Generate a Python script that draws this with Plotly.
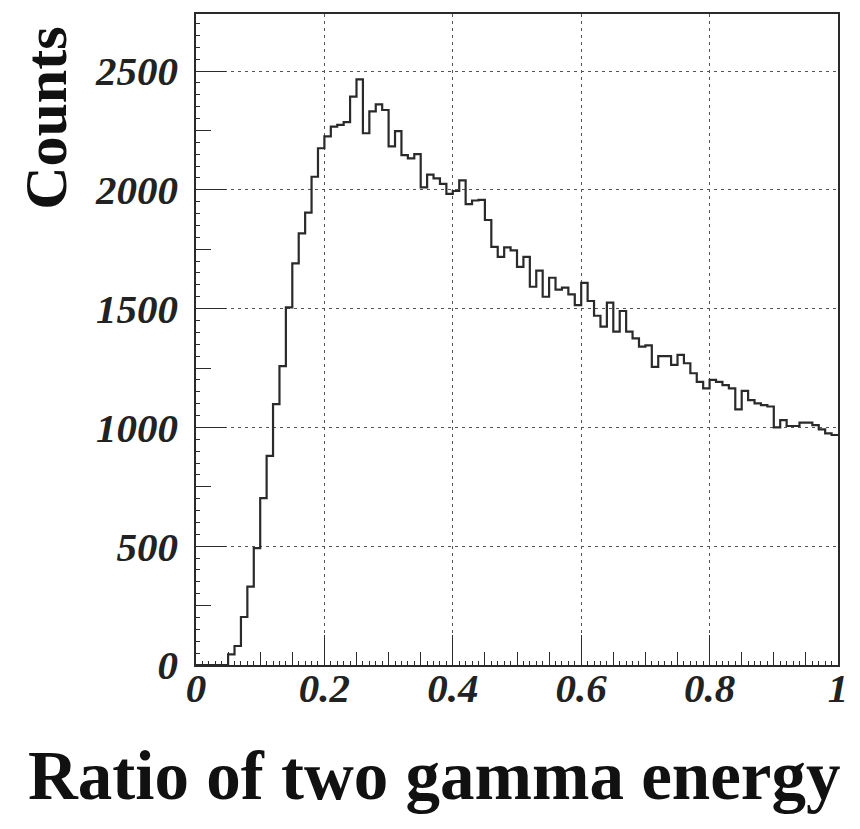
import numpy as np
import plotly.graph_objects as go

# Histogram of the energy ratio of the two photons: 100 bins on [0, 1]
x_min, x_max = 0.0, 1.0
counts = [
    0, 0, 0, 0, 0, 45, 80, 202, 330, 492,
    702, 880, 1098, 1258, 1505, 1690, 1817, 1904, 2055, 2175,
    2225, 2266, 2273, 2285, 2392, 2465, 2238, 2330, 2360, 2336,
    2183, 2247, 2146, 2132, 2150, 2010, 2064, 2048, 2025, 1983,
    1995, 2040, 1940, 1955, 1958, 1873, 1760, 1718, 1758, 1745,
    1676, 1718, 1592, 1660, 1550, 1630, 1580, 1588, 1560, 1515,
    1608, 1532, 1470, 1424, 1525, 1403, 1490, 1403, 1375, 1340,
    1345, 1255, 1300, 1300, 1263, 1305, 1270, 1228, 1192, 1164,
    1200, 1192, 1178, 1164, 1076, 1154, 1115, 1101, 1094, 1088,
    1000, 1031, 1006, 1006, 1020, 1020, 1010, 992, 975, 968,
]
x_ticks = [0, 0.2, 0.4, 0.6, 0.8, 1]
x_tick_text = ["0", "0.2", "0.4", "0.6", "0.8", "1"]
y_ticks = [0, 500, 1000, 1500, 2000, 2500]
y_tick_text = ["0", "500", "1000", "1500", "2000", "2500"]
y_max = 2740
x_title = "Ratio of two gamma energy"
y_title = "Counts"

edges = np.linspace(x_min, x_max, len(counts) + 1)
step_x = list(edges)
step_y = list(counts) + [counts[-1]]

serif = "Liberation Serif, Times New Roman, serif"
ink = "#2a2a2a"

fig = go.Figure()
fig.add_trace(go.Scatter(
    x=step_x, y=step_y, mode="lines",
    line=dict(shape="hv", color=ink, width=2.2),
    hoverinfo="skip", showlegend=False,
))
# invisible trace that carries the fine tick axes
fig.add_trace(go.Scatter(x=[x_min], y=[0], xaxis="x2", yaxis="y2",
                         mode="markers", marker=dict(opacity=0),
                         showlegend=False, hoverinfo="skip"))

tick_font = dict(family=serif, size=41, color="#222", weight="bold", style="italic")

fig.update_layout(
    width=860, height=829,
    margin=dict(l=196, r=14, t=14, b=164),
    paper_bgcolor="white", plot_bgcolor="white",
    xaxis=dict(
        range=[x_min, x_max], tickvals=x_ticks, ticktext=x_tick_text,
        ticks="inside", ticklen=30, tickwidth=1.2, tickcolor=ink,
        showline=True, linecolor=ink, linewidth=1.6, mirror=True,
        showgrid=True, gridcolor="#555", griddash="3px,4px", gridwidth=1,
        zeroline=False, tickfont=tick_font, ticklabelstandoff=-14,
        minor=dict(dtick=0.05, ticks="inside", ticklen=13, tickcolor=ink,
                   tickwidth=1.2, showgrid=False),
    ),
    yaxis=dict(
        range=[0, y_max], tickvals=y_ticks, ticktext=y_tick_text,
        ticks="inside", ticklen=30, tickwidth=1.2, tickcolor=ink,
        showline=True, linecolor=ink, linewidth=1.6, mirror=True,
        showgrid=True, gridcolor="#555", griddash="3px,4px", gridwidth=1,
        zeroline=False, tickfont=tick_font, ticklabelstandoff=8,
        minor=dict(dtick=250, ticks="inside", ticklen=15, tickcolor=ink,
                   tickwidth=1.2, showgrid=False),
    ),
    xaxis2=dict(range=[x_min, x_max], overlaying="x", anchor="y", side="bottom",
                dtick=0.01, tick0=0, ticks="inside", ticklen=4, tickcolor=ink,
                showticklabels=False, showgrid=False, zeroline=False),
    yaxis2=dict(range=[0, y_max], overlaying="y", anchor="x", side="left",
                dtick=50, tick0=0, ticks="inside", ticklen=4, tickcolor=ink,
                showticklabels=False, showgrid=False, zeroline=False),
    annotations=[
        dict(text=y_title, textangle=-90, xref="paper", yref="paper",
             x=(44 - 196) / 650, y=(665 - 118) / 651, xanchor="center", yanchor="middle",
             showarrow=False, font=dict(family=serif, size=60, color="#111", weight="bold")),
        dict(text=x_title, xref="paper", yref="paper",
             x=(437 - 196) / 650, y=(665 - 776) / 651, xanchor="center", yanchor="middle",
             showarrow=False, font=dict(family=serif, size=69, color="#111", weight="bold")),
    ],
)

fig.write_html("out.html")
